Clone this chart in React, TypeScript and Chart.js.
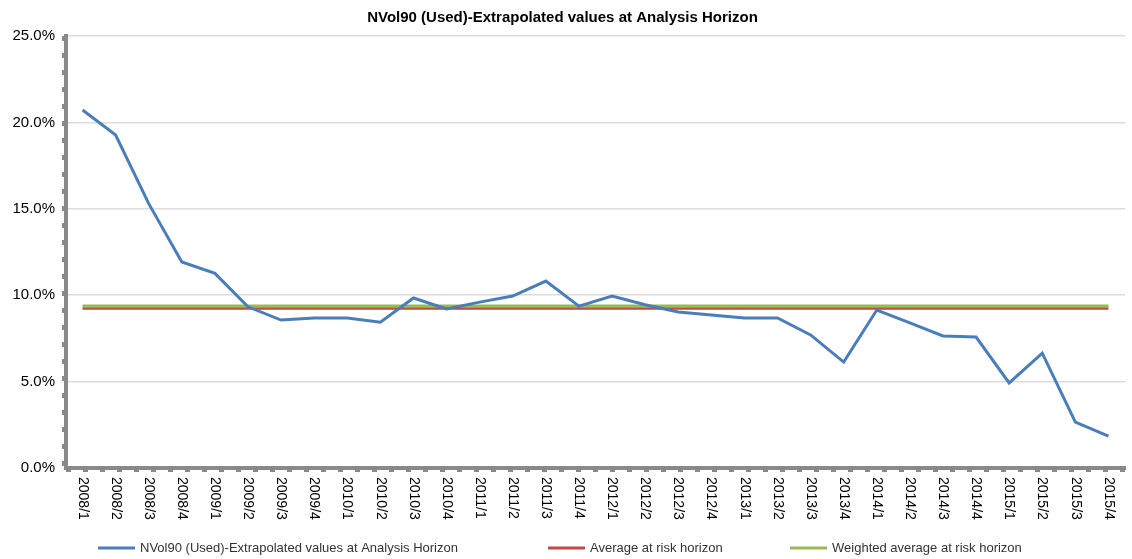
import React, { useEffect, useRef } from "react";
import { Chart, registerables } from "chart.js";

Chart.register(...registerables);

const TITLE = "NVol90 (Used)-Extrapolated values at Analysis Horizon";

const QUARTERS: string[] = [
  "2008/1", "2008/2", "2008/3", "2008/4",
  "2009/1", "2009/2", "2009/3", "2009/4",
  "2010/1", "2010/2", "2010/3", "2010/4",
  "2011/1", "2011/2", "2011/3", "2011/4",
  "2012/1", "2012/2", "2012/3", "2012/4",
  "2013/1", "2013/2", "2013/3", "2013/4",
  "2014/1", "2014/2", "2014/3", "2014/4",
  "2015/1", "2015/2", "2015/3", "2015/4",
];

// NVol90 extrapolated values (%)
const NVOL90: number[] = [
  20.72, 19.27, 15.3, 11.92,
  11.26, 9.33, 8.56, 8.68,
  8.68, 8.44, 9.84, 9.2,
  9.6, 9.95, 10.82, 9.37,
  9.95, 9.45, 9.03, 8.85,
  8.68, 8.68, 7.7, 6.13,
  9.14, 8.4, 7.64, 7.58,
  4.92, 6.65, 2.66, 1.85,
];

const AVERAGE = 9.22; // Average at risk horizon (%)
const WEIGHTED_AVERAGE = 9.36; // Weighted average at risk horizon (%)

const Y_TICKS: number[] = [0, 5, 10, 15, 20, 25];

const SERIES_NAMES: string[] = [
  TITLE,
  "Average at risk horizon",
  "Weighted average at risk horizon",
];
const SERIES_COLORS: string[] = ["#4A7EBB", "#BE4B48", "#98B954"];

const FONT = "Arial, 'Liberation Sans', sans-serif";
const AXIS_GRAY = "#898989";
// legend item start positions as fractions of the canvas width
const LEGEND_STARTS: number[] = [0.0866, 0.4841, 0.6979];

const axisDecor = {
  id: "axisDecor",
  afterDraw(chart: any) {
    const { ctx, chartArea, width, height } = chart;
    const x = chart.scales.x;
    ctx.save();
    // small dashes outside the axis bars (Excel-like marks)
    ctx.strokeStyle = AXIS_GRAY;
    ctx.lineWidth = 2;
    ctx.setLineDash([5, 12]);
    ctx.beginPath();
    ctx.moveTo(chartArea.left - 3, chartArea.top);
    ctx.lineTo(chartArea.left - 3, chartArea.bottom + 2);
    ctx.stroke();
    ctx.beginPath();
    ctx.moveTo(chartArea.left, chartArea.bottom + 3);
    ctx.lineTo(chartArea.right, chartArea.bottom + 3);
    ctx.stroke();
    ctx.setLineDash([]);
    // rotated category labels (reading top to bottom)
    ctx.fillStyle = "#000";
    ctx.font = `14px ${FONT}`;
    ctx.textAlign = "left";
    ctx.textBaseline = "middle";
    QUARTERS.forEach((lab, i) => {
      const px = x.getPixelForValue(i);
      ctx.save();
      ctx.translate(px, chartArea.bottom + 9);
      ctx.rotate(Math.PI / 2);
      ctx.fillText(lab, 0, 0);
      ctx.restore();
    });
    // legend
    ctx.font = `13px ${FONT}`;
    const sw = 37;
    const gapText = 5;
    const ly = height - 11;
    SERIES_NAMES.forEach((n, i) => {
      const cx = LEGEND_STARTS[i] * width;
      ctx.fillStyle = SERIES_COLORS[i];
      ctx.fillRect(cx, ly - 1.5, sw, 3);
      ctx.fillStyle = "#333";
      ctx.fillText(n, cx + sw + gapText, ly);
    });
    ctx.restore();
  },
};

export default function App() {
  const ref = useRef<HTMLCanvasElement | null>(null);

  useEffect(() => {
    if (!ref.current) return;
    const chart = new Chart(ref.current, {
      type: "line",
      data: {
        labels: QUARTERS,
        datasets: [
          {
            label: SERIES_NAMES[0],
            data: NVOL90,
            borderColor: SERIES_COLORS[0],
            backgroundColor: SERIES_COLORS[0],
            borderWidth: 3,
            pointRadius: 0,
            tension: 0,
          },
          {
            label: SERIES_NAMES[1],
            data: QUARTERS.map(() => AVERAGE),
            borderColor: SERIES_COLORS[1],
            backgroundColor: SERIES_COLORS[1],
            borderWidth: 2,
            pointRadius: 0,
          },
          {
            label: SERIES_NAMES[2],
            data: QUARTERS.map(() => WEIGHTED_AVERAGE),
            borderColor: SERIES_COLORS[2],
            backgroundColor: SERIES_COLORS[2],
            borderWidth: 3.5,
            pointRadius: 0,
          },
        ],
      },
      options: {
        animation: false,
        responsive: true,
        maintainAspectRatio: false,
        layout: { padding: { left: 0, right: 7, top: 0, bottom: 30 } },
        plugins: {
          title: {
            display: true,
            text: TITLE,
            color: "#000",
            font: { family: FONT, size: 15, weight: "bold" },
            padding: { top: 9, bottom: 9 },
          },
          legend: { display: false },
          tooltip: { enabled: false },
        },
        scales: {
          x: {
            type: "category",
            offset: true,
            grid: { display: false, drawTicks: false },
            ticks: { display: false },
            border: { display: true, color: AXIS_GRAY, width: 4 },
            afterFit: (scale: any) => {
              scale.height = 61;
            },
          },
          y: {
            min: 0,
            max: 25,
            afterBuildTicks: (scale: any) => {
              scale.ticks = Y_TICKS.map((v) => ({ value: v }));
            },
            ticks: {
              color: "#000",
              font: { family: FONT, size: 15 },
              padding: 11,
              callback: (v: any) => `${Number(v).toFixed(1)}%`,
            },
            grid: { color: "#DCDCDC", lineWidth: 1.5, drawTicks: false },
            border: { display: true, color: AXIS_GRAY, width: 4 },
            afterFit: (scale: any) => {
              scale.width = 66;
            },
          },
        },
      },
      plugins: [axisDecor],
    });
    return () => chart.destroy();
  }, []);

  return (
    <div
      style={{
        position: "fixed",
        left: 0,
        top: 0,
        width: 1132,
        height: 559,
        background: "#fff",
      }}
    >
      <canvas ref={ref} />
    </div>
  );
}
